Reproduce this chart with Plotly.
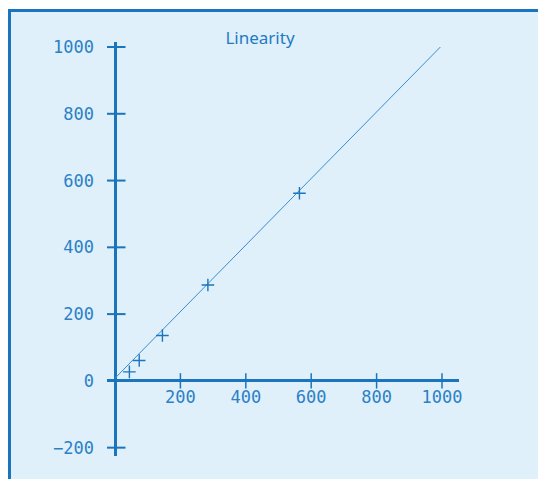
import plotly.graph_objects as go

# ---- data ----
meas_x = [44, 74, 145, 284, 564]
meas_y = [27, 61, 136, 287, 562]
fit_x = [0, 995]
fit_y = [8, 1000]
x_ticks = [200, 400, 600, 800, 1000]
y_ticks = [-200, 0, 200, 400, 600, 800, 1000]
title_text = "Linearity"

OFF = 8  # page body margin offset
W, H = 546 - OFF, 479 - OFF
ML, MT = 107 - OFF, 42 - OFF
PW, PH = 352, 414
MR = W - ML - PW
MB = H - MT - PH
XR = [-24.5, 1052]
YR = [-225, 1015]

BLUE = "#1b75bc"
TXT = "#2b80c6"
BG = "#dff0fa"
MONO = "DejaVu Sans Mono"


def px_to_paper_x(px):
    return (px - OFF - ML) / PW


def px_to_paper_y(py):
    return 1 - (py - OFF - MT) / PH


fig = go.Figure()

# fitted line
fig.add_trace(go.Scatter(x=fit_x, y=fit_y, mode="lines",
                         line=dict(color="#3b8bd0", width=1),
                         hoverinfo="skip", showlegend=False))
# measurements
fig.add_trace(go.Scatter(x=meas_x, y=meas_y, mode="markers",
                         marker=dict(symbol="cross-thin", size=9,
                                     line=dict(color=BLUE, width=1.4)),
                         showlegend=False))
# crossing tick marks on y axis
fig.add_trace(go.Scatter(x=[0] * len(y_ticks), y=y_ticks, mode="markers",
                         marker=dict(symbol="line-ew", size=15,
                                     line=dict(color=BLUE, width=2)),
                         hoverinfo="skip", showlegend=False))
# crossing tick marks on x axis
fig.add_trace(go.Scatter(x=x_ticks, y=[0] * len(x_ticks), mode="markers",
                         marker=dict(symbol="line-ns", size=11,
                                     line=dict(color=BLUE, width=1.5)),
                         hoverinfo="skip", showlegend=False))

# frame + background
fig.add_shape(type="rect", xref="paper", yref="paper",
              x0=px_to_paper_x(9.5), x1=px_to_paper_x(546 + 20),
              y0=px_to_paper_y(479 + 20), y1=px_to_paper_y(10.5),
              fillcolor=BG, line=dict(color=BLUE, width=3), layer="below")

fig.update_layout(
    width=W, height=H,
    margin=dict(l=ML, r=MR, t=MT, b=MB),
    paper_bgcolor="white",
    plot_bgcolor="rgba(0,0,0,0)",
    title=dict(text=title_text, x=(260 - OFF) / W, xanchor="center",
               y=1 - (38 - OFF) / H, yanchor="middle",
               font=dict(family="Noto Sans", size=17, color="#1f7bc4")),
    xaxis=dict(range=XR, showgrid=False, zeroline=True, zerolinecolor=BLUE,
               zerolinewidth=3, showline=False, tickvals=x_ticks,
               ticktext=[str(v) for v in x_ticks], ticks="",
               anchor="free", position=(0 - YR[0]) / (YR[1] - YR[0]),
               ticklabelstandoff=4,
               tickfont=dict(family=MONO, size=17, color=TXT)),
    yaxis=dict(range=YR, showgrid=False, zeroline=True, zerolinecolor=BLUE,
               zerolinewidth=3, showline=False, tickvals=y_ticks,
               ticktext=["\u2212200" if v < 0 else str(v) for v in y_ticks],
               ticks="", ticklabelstandoff=12,
               tickfont=dict(family=MONO, size=17, color=TXT)),
)

fig.write_html("out.html")
